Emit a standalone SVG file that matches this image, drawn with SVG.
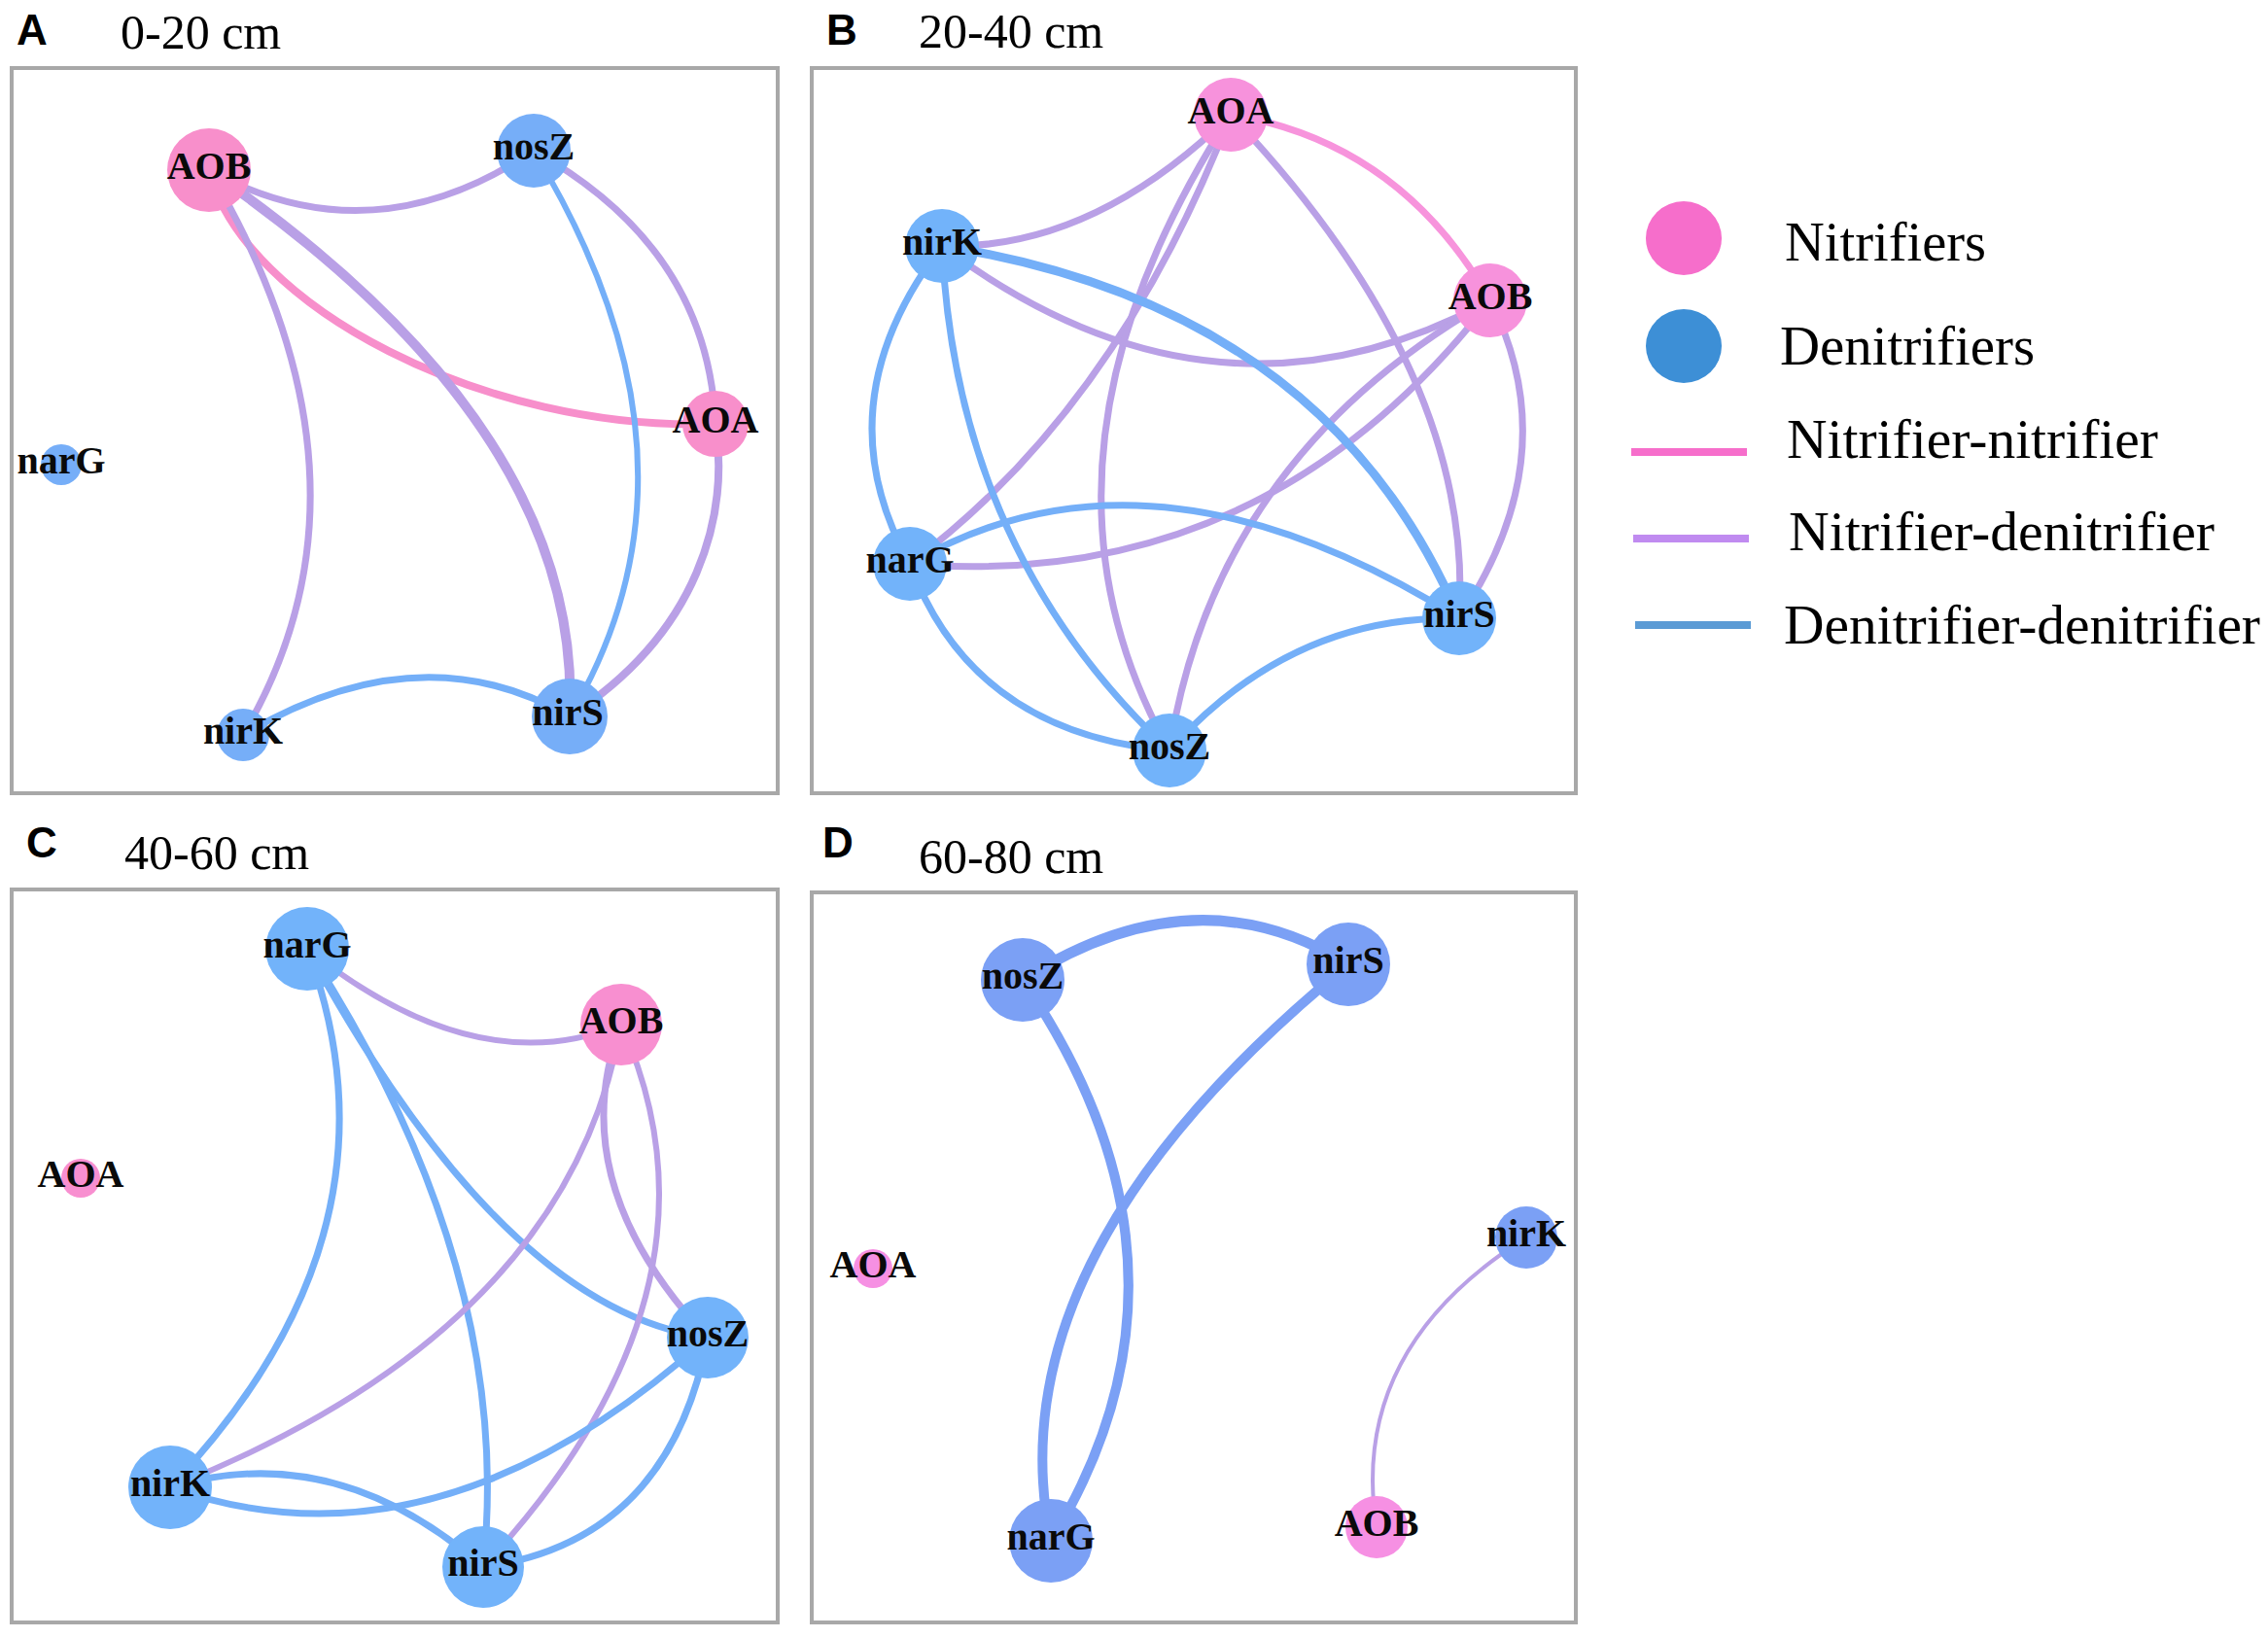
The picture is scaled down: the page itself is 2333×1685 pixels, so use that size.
<svg xmlns="http://www.w3.org/2000/svg" width="2333" height="1685" viewBox="0 0 2333 1685">
<style>
.frame{fill:none;stroke:#A8A8A8;stroke-width:4}
.e{fill:none;stroke-linecap:round}
.pk{stroke:#F78FCB}
.pu{stroke:#B9A0E6}
.bl{stroke:#74AFF8}
.bd{stroke:#7BA0F5}
.lbl{font-family:"Liberation Serif","Times New Roman",serif;font-weight:bold;font-size:40px;fill:#0a0a0a;text-anchor:middle}
.pl{font-family:"Liberation Sans",Arial,sans-serif;font-weight:bold;font-size:44px;fill:#000}
.hd{font-family:"Liberation Serif","Times New Roman",serif;font-size:50px;fill:#000}
.lg{font-family:"Liberation Serif","Times New Roman",serif;font-size:58px;fill:#000}
.nA{fill:#F88FCB}.dA{fill:#76AEF8}
.nB{fill:#F792DC}.dB{fill:#72B3FA}
.nC{fill:#F88FD0}.dC{fill:#72B3FA}
.nD{fill:#F690E3}.dD{fill:#7BA0F5}
</style>
<rect width="2333" height="1685" fill="#fff"/>

<g id="headers">
<text class="pl" x="17" y="46">A</text><text class="hd" x="124" y="50">0-20 cm</text>
<text class="pl" x="850" y="46">B</text><text class="hd" x="945" y="49">20-40 cm</text>
<text class="pl" x="27" y="882">C</text><text class="hd" x="128" y="894">40-60 cm</text>
<text class="pl" x="846" y="882">D</text><text class="hd" x="945" y="898">60-80 cm</text>
</g>

<g id="frames">
<rect class="frame" x="12" y="70" width="788" height="746"/>
<rect class="frame" x="835" y="70" width="786" height="746"/>
<rect class="frame" x="12" y="915" width="788" height="754"/>
<rect class="frame" x="835" y="918" width="786" height="751"/>
</g>

<g id="connectors">
<!-- Panel A -->
<path class="e pu" stroke-width="7" d="M215,175 Q382,267 549,155"/>
<path class="e pk" stroke-width="8" d="M215,175 C250,315 500,445 736,436"/>
<path class="e pu" stroke-width="10" d="M215,175 Q600,440 586,737"/>
<path class="e pu" stroke-width="7" d="M215,175 Q404,495 250,756"/>
<path class="e pu" stroke-width="7" d="M549,155 Q728,255 736,436"/>
<path class="e bl" stroke-width="6" d="M549,155 Q743,474 586,737"/>
<path class="e pu" stroke-width="8" d="M736,436 C750,530 720,650 586,737"/>
<path class="e bl" stroke-width="7" d="M250,756 Q432,648 586,737"/>
<!-- Panel B -->
<path class="e" stroke="#F794DC" stroke-width="7" d="M1266,118 Q1440,146 1533,309"/>
<path class="e pu" stroke-width="7" d="M1266,118 Q1123,258 969,253"/>
<path class="e pu" stroke-width="7" d="M1266,118 Q1149,421 936,580"/>
<path class="e pu" stroke-width="7" d="M1266,118 Q1036,475 1203,772"/>
<path class="e pu" stroke-width="7" d="M1266,118 Q1517,383 1501,636"/>
<path class="e pu" stroke-width="7" d="M1533,309 Q1249,463 969,253"/>
<path class="e pu" stroke-width="7" d="M1533,309 Q1300,610 936,580"/>
<path class="e pu" stroke-width="7" d="M1533,309 Q1250,470 1203,772"/>
<path class="e pu" stroke-width="7" d="M1533,309 Q1613,468 1501,636"/>
<path class="e bl" stroke-width="9" d="M969,253 Q1365,315 1501,636"/>
<path class="e bl" stroke-width="7" d="M969,253 Q844,416 936,580"/>
<path class="e bl" stroke-width="7" d="M969,253 Q984,568 1203,772"/>
<path class="e bl" stroke-width="7" d="M936,580 Q1182,436 1501,636"/>
<path class="e bl" stroke-width="7" d="M936,580 Q1000,754 1203,772"/>
<path class="e bl" stroke-width="7" d="M1203,772 Q1328,632 1501,636"/>
<!-- Panel C -->
<path class="e pu" stroke-width="6" d="M316,976 Q490,1115 639,1054"/>
<path class="e bl" stroke-width="7" d="M316,976 Q425,1267 175,1530"/>
<path class="e bl" stroke-width="7" d="M316,976 Q518,1348 728,1376"/>
<path class="e bl" stroke-width="7" d="M316,976 Q530,1306 497,1612"/>
<path class="e pu" stroke-width="6" d="M639,1054 Q584,1368 175,1530"/>
<path class="e pu" stroke-width="7" d="M639,1054 Q577,1215 728,1376"/>
<path class="e pu" stroke-width="6" d="M639,1054 Q762,1327 497,1612"/>
<path class="e bl" stroke-width="7" d="M728,1376 Q449,1627 175,1530"/>
<path class="e bl" stroke-width="7" d="M728,1376 Q688,1586 497,1612"/>
<path class="e bl" stroke-width="7" d="M175,1530 Q345,1479 497,1612"/>
<!-- Panel D -->
<path class="e bd" stroke-width="11" d="M1052,1008 Q1230,894 1387,992"/>
<path class="e bd" stroke-width="10" d="M1052,1008 Q1254,1304 1081,1585"/>
<path class="e bd" stroke-width="10" d="M1387,992 Q1020,1292 1081,1585"/>
<path class="e pu" stroke-width="4" d="M1570,1273 Q1387,1388 1416,1571"/>
</g>

<g id="panelA">
<g id="A-AOB"><circle class="nA" cx="215" cy="175" r="43"/><text class="lbl" x="215" y="184">AOB</text></g>
<g id="A-nosZ"><circle class="dA" cx="549" cy="155" r="38"/><text class="lbl" x="549" y="164">nosZ</text></g>
<g id="A-AOA"><circle class="nA" cx="736" cy="436" r="34"/><text class="lbl" x="736" y="445">AOA</text></g>
<g id="A-narG"><circle class="dA" cx="63" cy="478" r="21"/><text class="lbl" x="63" y="487">narG</text></g>
<g id="A-nirK"><circle class="dA" cx="250" cy="756" r="27"/><text class="lbl" x="250" y="765">nirK</text></g>
<g id="A-nirS"><circle class="dA" cx="586" cy="737" r="39"/><text class="lbl" x="584" y="746">nirS</text></g>
</g>

<g id="panelB">
<g id="B-AOA"><circle class="nB" cx="1266" cy="118" r="38"/><text class="lbl" x="1266" y="127">AOA</text></g>
<g id="B-AOB"><circle class="nB" cx="1533" cy="309" r="38"/><text class="lbl" x="1533" y="318">AOB</text></g>
<g id="B-nirK"><circle class="dB" cx="969" cy="253" r="38"/><text class="lbl" x="969" y="262">nirK</text></g>
<g id="B-narG"><circle class="dB" cx="936" cy="580" r="38"/><text class="lbl" x="936" y="589">narG</text></g>
<g id="B-nirS"><circle class="dB" cx="1501" cy="636" r="38"/><text class="lbl" x="1501" y="645">nirS</text></g>
<g id="B-nosZ"><circle class="dB" cx="1203" cy="772" r="38"/><text class="lbl" x="1203" y="781">nosZ</text></g>
</g>

<g id="panelC">
<g id="C-narG"><circle class="dC" cx="316" cy="976" r="43"/><text class="lbl" x="316" y="985">narG</text></g>
<g id="C-AOB"><circle class="nC" cx="639" cy="1054" r="42"/><text class="lbl" x="639" y="1063">AOB</text></g>
<g id="C-AOA"><circle class="nC" cx="83" cy="1212" r="20"/><text class="lbl" x="83" y="1221">AOA</text></g>
<g id="C-nosZ"><circle class="dC" cx="728" cy="1376" r="42"/><text class="lbl" x="728" y="1385">nosZ</text></g>
<g id="C-nirK"><circle class="dC" cx="175" cy="1530" r="43"/><text class="lbl" x="175" y="1539">nirK</text></g>
<g id="C-nirS"><circle class="dC" cx="497" cy="1612" r="42"/><text class="lbl" x="497" y="1621">nirS</text></g>
</g>

<g id="panelD">
<g id="D-nosZ"><circle class="dD" cx="1052" cy="1008" r="43"/><text class="lbl" x="1052" y="1017">nosZ</text></g>
<g id="D-nirS"><circle class="dD" cx="1387" cy="992" r="43"/><text class="lbl" x="1387" y="1001">nirS</text></g>
<g id="D-AOA"><circle class="nD" cx="898" cy="1305" r="20"/><text class="lbl" x="898" y="1314">AOA</text></g>
<g id="D-nirK"><circle class="dD" cx="1570" cy="1273" r="32"/><text class="lbl" x="1570" y="1282">nirK</text></g>
<g id="D-narG"><circle class="dD" cx="1081" cy="1585" r="43"/><text class="lbl" x="1081" y="1594">narG</text></g>
<g id="D-AOB"><circle class="nD" cx="1416" cy="1571" r="32"/><text class="lbl" x="1416" y="1580">AOB</text></g>
</g>

<g id="legend">
<ellipse cx="1732" cy="245" rx="39" ry="38" fill="#F66ECB"/>
<ellipse cx="1732" cy="356" rx="39" ry="38" fill="#3D8FD6"/>
<line x1="1678" y1="465" x2="1797" y2="465" stroke="#F66ECB" stroke-width="8"/>
<line x1="1680" y1="554" x2="1799" y2="554" stroke="#C08BF0" stroke-width="8"/>
<line x1="1682" y1="643" x2="1801" y2="643" stroke="#5B9BD5" stroke-width="8"/>
<text class="lg" x="1836" y="268" textLength="207" lengthAdjust="spacingAndGlyphs">Nitrifiers</text>
<text class="lg" x="1831" y="375" textLength="262" lengthAdjust="spacingAndGlyphs">Denitrifiers</text>
<text class="lg" x="1838" y="471" textLength="382" lengthAdjust="spacingAndGlyphs">Nitrifier-nitrifier</text>
<text class="lg" x="1840" y="566" textLength="438" lengthAdjust="spacingAndGlyphs">Nitrifier-denitrifier</text>
<text class="lg" x="1835" y="662" textLength="490" lengthAdjust="spacingAndGlyphs">Denitrifier-denitrifier</text>
</g>
</svg>
